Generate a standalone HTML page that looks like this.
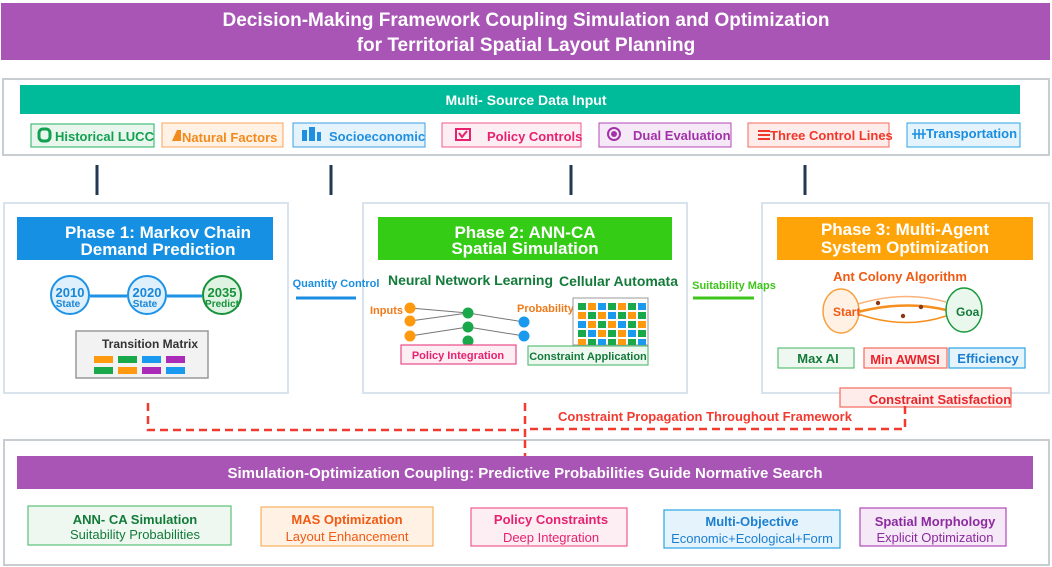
<!DOCTYPE html>
<html><head><meta charset="utf-8"><style>
html,body{margin:0;padding:0;background:#fff}
svg{display:block;font-family:"Liberation Sans",Arial,sans-serif;font-weight:bold}
</style></head><body>
<svg width="1052" height="567" viewBox="0 0 1052 567" xmlns="http://www.w3.org/2000/svg">
<!-- Title -->
<rect x="1" y="3" width="1049" height="57" fill="#A855B5"/>
<text x="526" y="26" fill="#fff" font-size="19" text-anchor="middle">Decision-Making Framework Coupling Simulation and Optimization</text>
<text x="526" y="51" fill="#fff" font-size="19" text-anchor="middle">for Territorial Spatial Layout Planning</text>

<!-- Input box -->
<rect x="3" y="79" width="1046" height="76" fill="#fff" stroke="#c8cdd2" stroke-width="2"/>
<rect x="20" y="85" width="1000" height="29" fill="#00BB99"/>
<text x="526" y="105" fill="#fff" font-size="14" text-anchor="middle">Multi-  Source Data Input</text>

<g font-size="13">
<rect x="31" y="124" width="123" height="23" fill="#e8f6ee" stroke="#22b060"/>
<rect x="39" y="129" width="11" height="12" rx="4" fill="none" stroke="#13a04f" stroke-width="3"/>
<text x="55" y="141" fill="#13a04f">Historical LUCC</text>
<rect x="162" y="123" width="121" height="24" fill="#fff2e4" stroke="#f7a55a"/>
<path d="M172 141 L177 130 L181 130 L181 141 Z" fill="#f28a1e"/>
<text x="182" y="142" fill="#f28a1e">Natural Factors</text>
<rect x="293" y="123" width="132" height="24" fill="#e5f3fc" stroke="#3a9fe0"/>
<rect x="302" y="130" width="5" height="11" fill="#1f8fe0"/><rect x="309" y="127" width="6" height="14" fill="#1f8fe0"/><rect x="317" y="132" width="4" height="9" fill="#1f8fe0"/>
<text x="329" y="141" fill="#1f8fe0">Socioeconomic</text>
<rect x="442" y="123" width="139" height="24" fill="#fdeef4" stroke="#f05a90"/>
<rect x="456" y="129" width="14" height="11" fill="none" stroke="#e6226f" stroke-width="2"/>
<path d="M459 133 L462 137 L467 131" fill="none" stroke="#e6226f" stroke-width="2"/>
<text x="487" y="141" fill="#e6226f">Policy Controls</text>
<rect x="599" y="123" width="132" height="24" fill="#f6e9f7" stroke="#b348b8"/>
<circle cx="614" cy="134" r="6" fill="none" stroke="#a232a8" stroke-width="2"/><circle cx="614" cy="134" r="3" fill="#a232a8"/>
<text x="633" y="140" fill="#a232a8">Dual Evaluation</text>
<rect x="748" y="123" width="141" height="24" fill="#fdecea" stroke="#f46a5c"/>
<path d="M758 131h12M758 135h12M758 139h12" stroke="#f0382a" stroke-width="2"/>
<text x="770" y="140" fill="#f0382a">Three Control Lines</text>
<rect x="907" y="123" width="113" height="24" fill="#e5f3fc" stroke="#2aa4e6"/>
<path d="M912 134h14M915 129v10M919 129v10M923 129v10" stroke="#1a8ee0" stroke-width="1.5"/>
<text x="926" y="138" fill="#1a8ee0">Transportation</text>
</g>

<!-- connectors -->
<g stroke="#1f3a52" stroke-width="3">
<line x1="97" y1="165" x2="97" y2="195"/><line x1="331" y1="165" x2="331" y2="195"/>
<line x1="571" y1="165" x2="571" y2="195"/><line x1="805" y1="165" x2="805" y2="195"/>
</g>

<!-- Phase 1 -->
<rect x="4" y="203" width="284" height="190" fill="#fff" stroke="#d8e3ee" stroke-width="2"/>
<rect x="17" y="217" width="256" height="43" fill="#1590E3"/>
<text x="158" y="238" fill="#fff" font-size="17" text-anchor="middle">Phase 1: Markov Chain</text>
<text x="158" y="255" fill="#fff" font-size="17" text-anchor="middle">Demand Prediction</text>
<line x1="90" y1="296" x2="127" y2="296" stroke="#1e93e6" stroke-width="3"/>
<line x1="167" y1="296" x2="202" y2="296" stroke="#1e93e6" stroke-width="3"/>
<circle cx="70" cy="295" r="19" fill="#ddf0fb" stroke="#1e93e6" stroke-width="2"/>
<circle cx="147" cy="295" r="19" fill="#ddf0fb" stroke="#1e93e6" stroke-width="2"/>
<circle cx="222" cy="295" r="19" fill="#dff3e3" stroke="#17923a" stroke-width="2"/>
<g text-anchor="middle">
<text x="70" y="297" font-size="13" fill="#1a86d6">2010</text><text x="68" y="307" font-size="10" fill="#1a86d6">State</text>
<text x="147" y="297" font-size="13" fill="#1a86d6">2020</text><text x="145" y="307" font-size="10" fill="#1a86d6">State</text>
<text x="222" y="297" font-size="13" fill="#17923a">2035</text><text x="222" y="307" font-size="10" fill="#17923a">Predict</text>
</g>
<rect x="76" y="331" width="132" height="47" fill="#f2f2f2" stroke="#999" stroke-width="1.5"/>
<text x="150" y="348" font-size="12" fill="#333" text-anchor="middle">Transition Matrix</text>
<g>
<rect x="94" y="356" width="19" height="7" fill="#ff9a10"/><rect x="118" y="356" width="19" height="7" fill="#19a84a"/><rect x="142" y="356" width="19" height="7" fill="#1a9aee"/><rect x="166" y="356" width="19" height="7" fill="#a92bb7"/>
<rect x="94" y="367" width="19" height="7" fill="#19a84a"/><rect x="118" y="367" width="19" height="7" fill="#ff9a10"/><rect x="142" y="367" width="19" height="7" fill="#a92bb7"/><rect x="166" y="367" width="19" height="7" fill="#1a9aee"/>
</g>

<!-- Phase 2 -->
<rect x="363" y="203" width="324" height="190" fill="#fff" stroke="#d8e3ee" stroke-width="2"/>
<rect x="378" y="217" width="294" height="43" fill="#34CC14"/>
<text x="525" y="238" fill="#fff" font-size="17" text-anchor="middle">Phase 2: ANN-CA</text>
<text x="525" y="254" fill="#fff" font-size="17" text-anchor="middle">Spatial Simulation</text>
<text x="388" y="285" font-size="14" fill="#137a3a" textLength="165">Neural Network Learning</text>
<text x="559" y="286" font-size="14" fill="#137a3a" textLength="119">Cellular Automata</text>
<g stroke="#777" stroke-width="1">
<line x1="410" y1="308" x2="468" y2="313"/><line x1="410" y1="321" x2="468" y2="313"/><line x1="410" y1="336" x2="468" y2="327"/>
<line x1="468" y1="313" x2="524" y2="322"/><line x1="468" y1="327" x2="524" y2="336"/>
</g>
<circle cx="410" cy="308" r="5.5" fill="#ff9a10"/><circle cx="410" cy="321" r="5.5" fill="#ff9a10"/><circle cx="410" cy="336" r="5.5" fill="#ff9a10"/>
<circle cx="468" cy="313" r="5.5" fill="#19a84a"/><circle cx="468" cy="327" r="5.5" fill="#19a84a"/><circle cx="468" cy="341" r="5.5" fill="#19a84a"/>
<circle cx="524" cy="322" r="5.5" fill="#1a9aee"/><circle cx="524" cy="336" r="5.5" fill="#1a9aee"/>
<text x="370" y="314" font-size="11" fill="#f07a1a">Inputs</text>
<text x="517" y="312" font-size="11" fill="#f07a1a">Probability</text>
<rect x="573" y="298" width="75" height="47" fill="#fff" stroke="#999" stroke-width="1"/>
<g>
<rect x="578" y="303" width="8" height="7" fill="#19a84a"/><rect x="588" y="303" width="8" height="7" fill="#ff9a10"/><rect x="598" y="303" width="8" height="7" fill="#1a9aee"/><rect x="608" y="303" width="8" height="7" fill="#19a84a"/><rect x="618" y="303" width="8" height="7" fill="#ff9a10"/><rect x="628" y="303" width="8" height="7" fill="#19a84a"/><rect x="638" y="303" width="8" height="7" fill="#1a9aee"/>
<rect x="578" y="312" width="8" height="7" fill="#ff9a10"/><rect x="588" y="312" width="8" height="7" fill="#19a84a"/><rect x="598" y="312" width="8" height="7" fill="#ff9a10"/><rect x="608" y="312" width="8" height="7" fill="#1a9aee"/><rect x="618" y="312" width="8" height="7" fill="#19a84a"/><rect x="628" y="312" width="8" height="7" fill="#ff9a10"/><rect x="638" y="312" width="8" height="7" fill="#19a84a"/>
<rect x="578" y="321" width="8" height="7" fill="#1a9aee"/><rect x="588" y="321" width="8" height="7" fill="#ff9a10"/><rect x="598" y="321" width="8" height="7" fill="#19a84a"/><rect x="608" y="321" width="8" height="7" fill="#ff9a10"/><rect x="618" y="321" width="8" height="7" fill="#1a9aee"/><rect x="628" y="321" width="8" height="7" fill="#19a84a"/><rect x="638" y="321" width="8" height="7" fill="#ff9a10"/>
<rect x="578" y="330" width="8" height="7" fill="#19a84a"/><rect x="588" y="330" width="8" height="7" fill="#1a9aee"/><rect x="598" y="330" width="8" height="7" fill="#ff9a10"/><rect x="608" y="330" width="8" height="7" fill="#19a84a"/><rect x="618" y="330" width="8" height="7" fill="#ff9a10"/><rect x="628" y="330" width="8" height="7" fill="#1a9aee"/><rect x="638" y="330" width="8" height="7" fill="#19a84a"/>
<rect x="578" y="339" width="8" height="6" fill="#ff9a10"/><rect x="588" y="339" width="8" height="6" fill="#19a84a"/><rect x="598" y="339" width="8" height="6" fill="#1a9aee"/><rect x="608" y="339" width="8" height="6" fill="#19a84a"/><rect x="618" y="339" width="8" height="6" fill="#ff9a10"/><rect x="628" y="339" width="8" height="6" fill="#19a84a"/><rect x="638" y="339" width="8" height="6" fill="#1a9aee"/>
</g>
<rect x="401" y="345" width="115" height="19" fill="#fdeef4" stroke="#e84a86" stroke-width="1.2"/>
<text x="458" y="359" font-size="11" fill="#e6226f" text-anchor="middle">Policy Integration</text>
<rect x="528" y="346" width="120" height="19" fill="#eef8f0" stroke="#5cbf7a" stroke-width="1.2"/>
<text x="588" y="360" font-size="11" fill="#137a3a" text-anchor="middle">Constraint Application</text>

<!-- Phase 3 -->
<rect x="762" y="203" width="287" height="190" fill="#fff" stroke="#d8e3ee" stroke-width="2"/>
<rect x="777" y="217" width="256" height="43" fill="#FFA408"/>
<text x="905" y="235" fill="#fff" font-size="17" text-anchor="middle">Phase 3: Multi-Agent</text>
<text x="905" y="253" fill="#fff" font-size="17" text-anchor="middle">System Optimization</text>
<text x="900" y="281" font-size="13" fill="#f05a14" text-anchor="middle">Ant Colony Algorithm</text>
<path d="M858 304 Q905 290 946 302" fill="none" stroke="#fbb27a" stroke-width="1.5"/>
<path d="M858 312 Q905 300 946 310" fill="none" stroke="#f5901e" stroke-width="2.5"/>
<path d="M858 314 Q905 330 946 316" fill="none" stroke="#f5901e" stroke-width="1.5"/>
<circle cx="878" cy="303" r="2.2" fill="#8a3a12"/><circle cx="921" cy="307" r="2.2" fill="#8a3a12"/><circle cx="903" cy="316" r="2.2" fill="#8a3a12"/>
<ellipse cx="841" cy="311" rx="18" ry="22" fill="#fff2e4" stroke="#f7a040" stroke-width="1.5"/>
<ellipse cx="964" cy="310" rx="18" ry="22" fill="#eaf7ec" stroke="#1a9a3e" stroke-width="1.5"/>
<text x="833" y="316" font-size="12" fill="#f05a14">Start</text>
<text x="956" y="316" font-size="12" fill="#137a3a">Goa</text>
<rect x="778" y="348" width="76" height="20" fill="#eef8f0" stroke="#5cbf7a" stroke-width="1.2"/>
<text x="818" y="363" font-size="13" fill="#137a3a" text-anchor="middle">Max AI</text>
<rect x="864" y="348" width="83" height="20" fill="#fdecea" stroke="#f46a5c" stroke-width="1.2"/>
<text x="905" y="364" font-size="13" fill="#e8242a" text-anchor="middle">Min AWMSI</text>
<rect x="949" y="348" width="76" height="20" fill="#e5f3fc" stroke="#2aa4e6" stroke-width="1.2"/>
<text x="988" y="363" font-size="13" fill="#1a7fd0" text-anchor="middle">Efficiency</text>

<!-- inter-phase labels (on top) -->
<text x="336" y="287" font-size="11" fill="#1a8ee0" text-anchor="middle">Quantity Control</text>
<line x1="296" y1="298" x2="356" y2="298" stroke="#1a8ee0" stroke-width="3"/>
<text x="734" y="289" font-size="11" fill="#3ec41a" text-anchor="middle">Suitability Maps</text>
<line x1="693" y1="298" x2="754" y2="298" stroke="#3ec41a" stroke-width="3"/>

<!-- Constraint satisfaction -->
<rect x="840" y="388" width="171" height="19" fill="#fdecea" stroke="#f46a5c" stroke-width="1.2"/>
<text x="940" y="404" font-size="13" fill="#e8242a" text-anchor="middle">Constraint Satisfaction</text>
<g stroke="#f23b30" stroke-width="2.5" fill="none" stroke-dasharray="8,5">
<path d="M148 403 V430 H525"/>
<path d="M525 403 V455"/>
<path d="M530 429 H905 V405"/>
</g>
<text x="705" y="421" font-size="13" fill="#f23b30" text-anchor="middle">Constraint Propagation Throughout Framework</text>

<!-- Bottom -->
<rect x="4" y="440" width="1045" height="125" fill="#fff" stroke="#c8cdd2" stroke-width="2"/>
<line x1="525" y1="440" x2="525" y2="456" stroke="#f23b30" stroke-width="2.5" stroke-dasharray="8,5"/>
<rect x="17" y="456" width="1016" height="33" fill="#A855B5"/>
<text x="525" y="478" fill="#fff" font-size="15" text-anchor="middle">Simulation-Optimization Coupling: Predictive Probabilities Guide Normative Search</text>
<g font-size="13" text-anchor="middle">
<rect x="28" y="506" width="203" height="39" fill="#eef8f0" stroke="#5cbf7a" stroke-width="1.2"/>
<text x="135" y="524" fill="#137a3a">ANN- CA Simulation</text>
<text x="135" y="539" fill="#137a3a" font-weight="normal">Suitability Probabilities</text>
<rect x="261" y="507" width="172" height="39" fill="#fff2e4" stroke="#f7b060" stroke-width="1.2"/>
<text x="347" y="524" fill="#f05a14">MAS Optimization</text>
<text x="347" y="541" fill="#f05a14" font-weight="normal">Layout Enhancement</text>
<rect x="471" y="508" width="156" height="38" fill="#fdeef4" stroke="#f05a90" stroke-width="1.2"/>
<text x="551" y="524" fill="#e6226f">Policy Constraints</text>
<text x="551" y="542" fill="#e6226f" font-weight="normal">Deep Integration</text>
<rect x="664" y="510" width="176" height="38" fill="#e5f3fc" stroke="#2aa4e6" stroke-width="1.2"/>
<text x="752" y="526" fill="#1a7fd0">Multi-Objective</text>
<text x="752" y="543" fill="#1a7fd0" font-weight="normal">Economic+Ecological+Form</text>
<rect x="860" y="508" width="146" height="38" fill="#f6e9f7" stroke="#b348b8" stroke-width="1.2"/>
<text x="935" y="526" fill="#8c2aa0">Spatial Morphology</text>
<text x="935" y="542" fill="#8c2aa0" font-weight="normal">Explicit Optimization</text>
</g>
</svg>
</body></html>
